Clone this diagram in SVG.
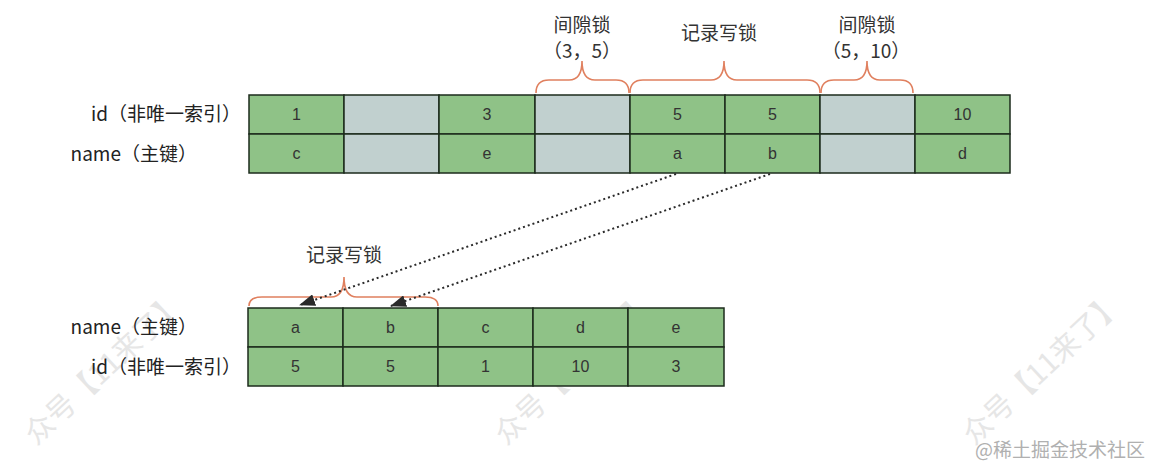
<svg xmlns="http://www.w3.org/2000/svg" width="1151" height="469" viewBox="0 0 1151 469">
<style>
.cg{fill:#8fc287;stroke:#1c2b1c;stroke-width:1.5}
.cy{fill:#c1d0cf;stroke:#1c2b1c;stroke-width:1.5}
.t{font-family:"Liberation Sans","Noto Sans CJK SC",sans-serif;font-size:16px;fill:#333;text-anchor:middle}
.lbl{font-family:"Noto Sans CJK SC","Liberation Sans",sans-serif;font-size:19px;fill:#222;text-anchor:end}
.cap{font-family:"Noto Sans CJK SC","Liberation Sans",sans-serif;font-size:19px;fill:#333;text-anchor:middle}
.br{fill:none;stroke:#e0805f;stroke-width:1.6}
.wm{font-family:"Noto Sans CJK SC",sans-serif;font-size:29px;fill:#e6e6e6}
.con{fill:none;stroke:#2a2a2a;stroke-width:2;stroke-dasharray:2 3}
</style>
<defs>
<marker id="ah2" viewBox="0 0 16 12" refX="15" refY="6" markerWidth="16" markerHeight="12" orient="auto" markerUnits="userSpaceOnUse">
<path d="M0,0 L16,6 L0,12 Z" fill="#2a2a2a"/>
</marker>
</defs>
<rect width="1151" height="469" fill="#fff"/>
<g id="watermarks">
<text class="wm" transform="translate(36,446) rotate(-43)">众号【11来了】</text>
<text class="wm" transform="translate(506,446) rotate(-43)">众号【11来了】</text>
<text class="wm" transform="translate(974,446) rotate(-43)">众号【11来了】</text>
<text x="1145" y="457" font-family="Noto Sans CJK SC,sans-serif" font-size="19" fill="#b0b0b0" text-anchor="end">@稀土掘金技术社区</text>
</g>
<g id="top-labels">
<text class="lbl" x="241" y="121">id（非唯一索引）</text>
<text class="lbl" x="197" y="161">name（主键）</text>
</g>
<g id="top-table">
<rect class="cg" x="249" y="95" width="95" height="39"/><text class="t" x="296.5" y="120">1</text>
<rect class="cy" x="344" y="95" width="95" height="39"/>
<rect class="cg" x="439" y="95" width="96" height="39"/><text class="t" x="487" y="120">3</text>
<rect class="cy" x="535" y="95" width="95" height="39"/>
<rect class="cg" x="630" y="95" width="95" height="39"/><text class="t" x="677.5" y="120">5</text>
<rect class="cg" x="725" y="95" width="95" height="39"/><text class="t" x="772.5" y="120">5</text>
<rect class="cy" x="820" y="95" width="95" height="39"/>
<rect class="cg" x="915" y="95" width="95" height="39"/><text class="t" x="962.5" y="120">10</text>
<rect class="cg" x="249" y="134" width="95" height="39"/><text class="t" x="296.5" y="159">c</text>
<rect class="cy" x="344" y="134" width="95" height="39"/>
<rect class="cg" x="439" y="134" width="96" height="39"/><text class="t" x="487" y="159">e</text>
<rect class="cy" x="535" y="134" width="95" height="39"/>
<rect class="cg" x="630" y="134" width="95" height="39"/><text class="t" x="677.5" y="159">a</text>
<rect class="cg" x="725" y="134" width="95" height="39"/><text class="t" x="772.5" y="159">b</text>
<rect class="cy" x="820" y="134" width="95" height="39"/>
<rect class="cg" x="915" y="134" width="95" height="39"/><text class="t" x="962.5" y="159">d</text>
</g>
<g id="gap-lock-3-5">
<path class="br" d="M536,93 Q536,80 549,80 L569,80 Q582,80 582,61 Q582,80 595,80 L616,80 Q629,80 629,93"/>
<text class="cap" x="582" y="32">间隙锁</text>
<text class="cap" x="582" y="58">（3，5）</text>
</g>
<g id="record-lock-top">
<path class="br" d="M630,93 Q630,80 643,80 L711,80 Q724,80 724,61 Q724,80 737,80 L807,80 Q820,80 820,93"/>
<text class="cap" x="719" y="40">记录写锁</text>
</g>
<g id="gap-lock-5-10">
<path class="br" d="M821,93 Q821,80 834,80 L854,80 Q867,80 867,61 Q867,80 880,80 L900,80 Q913,80 913,93"/>
<text class="cap" x="867" y="32">间隙锁</text>
<text class="cap" x="866" y="58">（5，10）</text>
</g>
<g id="record-lock-bottom">
<path class="br" d="M249,306 Q249,297 262,297 L331,297 Q344,297 344,277 Q344,297 357,297 L425,297 Q438,297 438,306"/>
<text class="cap" x="344" y="262">记录写锁</text>
</g>
<g id="connectors">
<path class="con" d="M676,174 L300,305" marker-end="url(#ah2)"/>
<path class="con" d="M770,174 L391,306" marker-end="url(#ah2)"/>
</g>
<g id="bottom-labels">
<text class="lbl" x="197" y="334">name（主键）</text>
<text class="lbl" x="241" y="374">id（非唯一索引）</text>
</g>
<g id="bottom-table">
<rect class="cg" x="248" y="308" width="95" height="39"/><text class="t" x="295.5" y="333">a</text>
<rect class="cg" x="343" y="308" width="95" height="39"/><text class="t" x="390.5" y="333">b</text>
<rect class="cg" x="438" y="308" width="95" height="39"/><text class="t" x="485.5" y="333">c</text>
<rect class="cg" x="533" y="308" width="95" height="39"/><text class="t" x="580.5" y="333">d</text>
<rect class="cg" x="628" y="308" width="96" height="39"/><text class="t" x="676" y="333">e</text>
<rect class="cg" x="248" y="347" width="95" height="39"/><text class="t" x="295.5" y="372">5</text>
<rect class="cg" x="343" y="347" width="95" height="39"/><text class="t" x="390.5" y="372">5</text>
<rect class="cg" x="438" y="347" width="95" height="39"/><text class="t" x="485.5" y="372">1</text>
<rect class="cg" x="533" y="347" width="95" height="39"/><text class="t" x="580.5" y="372">10</text>
<rect class="cg" x="628" y="347" width="96" height="39"/><text class="t" x="676" y="372">3</text>
</g>
</svg>
